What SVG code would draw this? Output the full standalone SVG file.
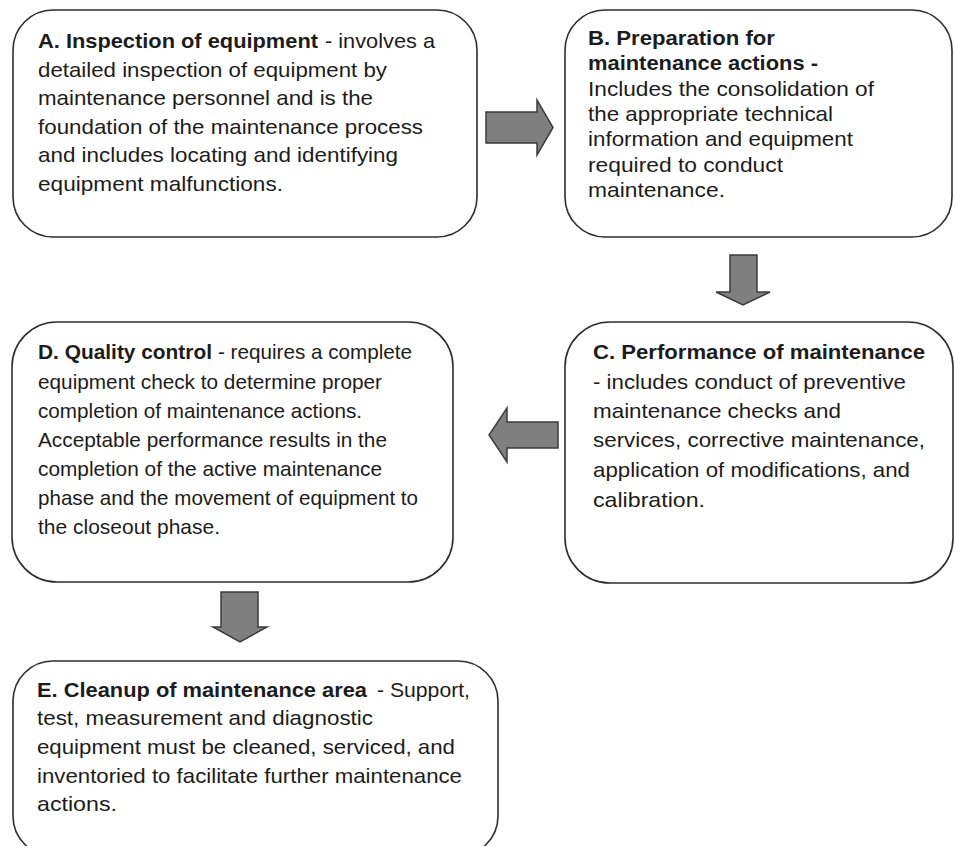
<svg xmlns="http://www.w3.org/2000/svg" width="955" height="846" viewBox="0 0 955 846">
<style>
.box{fill:#ffffff;stroke:#2e2e2e;stroke-width:1.6}
.arr{fill:#7f7f7f;stroke:#3c3c3c;stroke-width:1.5;stroke-linejoin:miter}
text{font-family:"Liberation Sans",Arial,sans-serif;font-size:21px;fill:#1c1c1c}
.b{font-weight:bold}
</style>
<rect width="955" height="846" fill="#ffffff"/>
<g id="connectors">
<polygon class="arr" points="486,112 537,112 537,100 553,127.5 537,155 537,143 486,143"/>
<polygon class="arr" points="730,255 757,255 757,292 770,292 743,305 716,292 730,292"/>
<polygon class="arr" points="558,422 558,448 507,448 507,462 489,435 507,408 507,422"/>
<polygon class="arr" points="221,592 258,592 258,627 267,627 240,642 213,627 221,627"/>
</g>
<g id="nodeA">
<rect class="box" x="13" y="10" width="464" height="227" rx="40"/>
<text class="b" x="38" y="48" textLength="280" lengthAdjust="spacingAndGlyphs">A. Inspection of equipment</text>
<text x="325" y="48" textLength="110" lengthAdjust="spacingAndGlyphs">- involves a</text>
<text x="38" y="76.5" textLength="349" lengthAdjust="spacingAndGlyphs">detailed inspection of equipment by</text>
<text x="38" y="105" textLength="335" lengthAdjust="spacingAndGlyphs">maintenance personnel and is the</text>
<text x="38" y="133.5" textLength="385" lengthAdjust="spacingAndGlyphs">foundation of the maintenance process</text>
<text x="38" y="162" textLength="360" lengthAdjust="spacingAndGlyphs">and includes locating and identifying</text>
<text x="38" y="190.5" textLength="245" lengthAdjust="spacingAndGlyphs">equipment malfunctions.</text>
</g>
<g id="nodeB">
<rect class="box" x="565" y="10" width="387" height="227" rx="40"/>
<text class="b" x="588" y="45" textLength="187" lengthAdjust="spacingAndGlyphs">B. Preparation for</text>
<text class="b" x="588" y="70" textLength="230" lengthAdjust="spacingAndGlyphs">maintenance actions -</text>
<text x="588" y="95.5" textLength="286" lengthAdjust="spacingAndGlyphs">Includes the consolidation of</text>
<text x="588" y="121" textLength="245" lengthAdjust="spacingAndGlyphs">the appropriate technical</text>
<text x="588" y="146" textLength="265" lengthAdjust="spacingAndGlyphs">information and equipment</text>
<text x="588" y="171.5" textLength="195" lengthAdjust="spacingAndGlyphs">required to conduct</text>
<text x="588" y="197" textLength="137" lengthAdjust="spacingAndGlyphs">maintenance.</text>
</g>
<g id="nodeC">
<rect class="box" x="565" y="322" width="388" height="261" rx="45"/>
<text class="b" x="593" y="359" textLength="332" lengthAdjust="spacingAndGlyphs">C. Performance of maintenance</text>
<text x="593" y="389" textLength="313" lengthAdjust="spacingAndGlyphs">- includes conduct of preventive</text>
<text x="593" y="418" textLength="248" lengthAdjust="spacingAndGlyphs">maintenance checks and</text>
<text x="593" y="447" textLength="332" lengthAdjust="spacingAndGlyphs">services, corrective maintenance,</text>
<text x="593" y="477" textLength="317" lengthAdjust="spacingAndGlyphs">application of modifications, and</text>
<text x="593" y="507" textLength="112" lengthAdjust="spacingAndGlyphs">calibration.</text>
</g>
<g id="nodeD">
<rect class="box" x="12" y="322" width="441" height="260" rx="45"/>
<text class="b" x="38" y="359" textLength="174" lengthAdjust="spacingAndGlyphs">D. Quality control</text>
<text x="218" y="359" textLength="194" lengthAdjust="spacingAndGlyphs">- requires a complete</text>
<text x="38" y="389" textLength="344" lengthAdjust="spacingAndGlyphs">equipment check to determine proper</text>
<text x="38" y="418" textLength="324" lengthAdjust="spacingAndGlyphs">completion of maintenance actions.</text>
<text x="38" y="447" textLength="349" lengthAdjust="spacingAndGlyphs">Acceptable performance results in the</text>
<text x="38" y="476" textLength="344" lengthAdjust="spacingAndGlyphs">completion of the active maintenance</text>
<text x="38" y="505" textLength="380" lengthAdjust="spacingAndGlyphs">phase and the movement of equipment to</text>
<text x="38" y="534" textLength="182" lengthAdjust="spacingAndGlyphs">the closeout phase.</text>
</g>
<g id="nodeE">
<rect class="box" x="13" y="661" width="485" height="195" rx="40"/>
<text class="b" x="37" y="697" textLength="330" lengthAdjust="spacingAndGlyphs">E. Cleanup of maintenance area</text>
<text x="377" y="697" textLength="93" lengthAdjust="spacingAndGlyphs">- Support,</text>
<text x="37" y="725" textLength="336" lengthAdjust="spacingAndGlyphs">test, measurement and diagnostic</text>
<text x="37" y="754" textLength="418" lengthAdjust="spacingAndGlyphs">equipment must be cleaned, serviced, and</text>
<text x="37" y="783" textLength="425" lengthAdjust="spacingAndGlyphs">inventoried to facilitate further maintenance</text>
<text x="37" y="811" textLength="80" lengthAdjust="spacingAndGlyphs">actions.</text>
</g>
</svg>
